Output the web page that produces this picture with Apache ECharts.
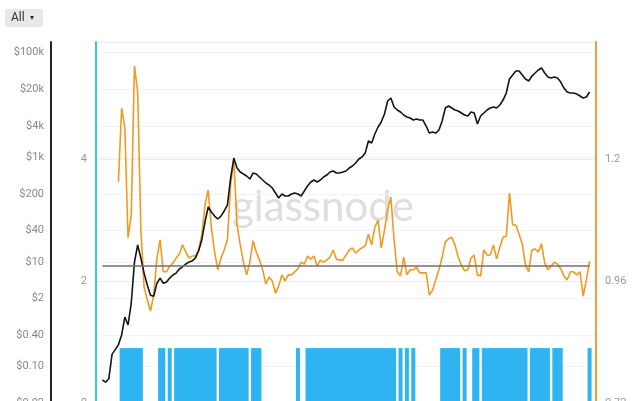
<!DOCTYPE html>
<html><head><meta charset="utf-8">
<script src="https://cdn.jsdelivr.net/npm/echarts@6/dist/echarts.min.js"></script>
<style>html,body{margin:0;padding:0;background:#fff}#c{width:640px;height:401px}</style>
</head><body><div id="c"></div>
<script>
// ---- categories (monthly) ----
const firstMonth = [2010, 5];
const monthCount = 157;
const months = [];
for (let i = 0; i < monthCount; i++) {
  const t = firstMonth[1] - 1 + i;
  const y = firstMonth[0] + Math.floor(t / 12);
  const m = (t % 12) + 1;
  months.push(y + '-' + (m < 10 ? '0' + m : m));
}

// ---- tick labels ----
const priceTicks = [0.02, 0.1, 0.4, 2, 10, 40, 200, 1000, 4000, 20000, 100000];
const midAxis = { min: 0, max: 5.92, interval: 2 };
const ratioAxis = { min: 0.72, max: 1.43, interval: 0.24 };
const priceAxis = { min: 0.02, max: 160000 };

// ---- BTC price (black, log axis), starting at month index 2 ----
const priceStart = 2;
const price = [
  0.055, 0.050, 0.058, 0.17, 0.21, 0.26, 0.40, 0.88, 0.62, 1.63,
  9.9, 21.0, 11.8, 6.1, 3.6, 2.3, 2.2, 3.9, 4.9, 3.9,
  4.1, 4.9, 5.6, 6.1, 7.3, 8.0, 9.1, 9.9, 10.4, 11.8,
  16.1, 26.2, 57.8, 112, 90, 75, 66, 75, 94, 122,
  401, 967, 622, 522, 478, 438, 384, 500, 478, 419,
  367, 322, 294, 258, 207, 166, 198, 182, 182, 198,
  207, 198, 182, 226, 282, 336, 367, 336, 367, 419,
  457, 522, 546, 500, 500, 522, 546, 622, 680, 776,
  925, 1011, 1205, 2045, 1872, 2782, 3784, 4721, 6714, 11890,
  13580, 9141, 8000, 7330, 6425, 5877, 5623, 5152, 5383, 5152,
  5152, 3955, 2904, 3039, 2904, 3319, 4931, 8750, 9550, 8750,
  8000, 7656, 7015, 6425, 6152, 7330, 7015, 4325, 6152, 7015,
  8000, 8750, 9141, 8750, 9977, 12420, 16900, 31330, 37410, 44570,
  44570, 37410, 31330, 28710, 35730, 40830, 46560, 50820, 40830, 34200,
  32730, 34200, 32730, 27480, 21090, 17660, 16900, 16900, 16180, 14830,
  13580, 14190, 17660
];

// ---- ratio indicator (orange, right axis), starting at month index 7 ----
const ratioStart = 7;
const ratio = [
  1.155, 1.300, 1.261, 1.045, 1.090, 1.383, 1.332, 1.060, 0.948, 0.923,
  0.901, 0.932, 1.005, 1.041, 0.978, 0.978, 0.989, 0.995, 1.005, 1.013,
  1.031, 1.017, 1.005, 1.009, 1.009, 1.021, 1.050, 1.109, 1.139, 1.064,
  1.017, 0.982, 1.005, 1.021, 1.041, 1.149, 1.198, 1.070, 1.031, 0.997,
  0.972, 0.997, 1.039, 1.017, 1.001, 0.982, 0.954, 0.968, 0.960, 0.936,
  0.950, 0.972, 0.960, 0.972, 0.972, 0.978, 0.984, 0.997, 0.993, 1.009,
  1.003, 1.009, 0.989, 1.001, 0.997, 1.001, 1.007, 1.021, 1.003, 1.001,
  1.001, 1.011, 1.021, 1.025, 1.015, 1.021, 1.025, 1.029, 1.052, 1.031,
  1.066, 1.080, 1.025, 1.060, 1.100, 1.125, 1.041, 0.978, 0.970, 1.007,
  0.972, 0.982, 0.982, 0.987, 0.976, 0.976, 0.976, 0.932, 0.942, 0.962,
  0.982, 1.007, 1.037, 1.043, 1.046, 1.031, 1.007, 0.991, 0.980, 0.982,
  1.005, 1.011, 0.972, 0.970, 1.021, 1.011, 1.011, 1.031, 1.003, 1.027,
  1.046, 1.048, 1.133, 1.070, 1.070, 1.052, 1.033, 0.991, 0.978, 1.021,
  1.023, 1.017, 1.033, 0.995, 0.982, 0.989, 0.997, 0.993, 0.984, 0.970,
  0.962, 0.978, 0.978, 0.972, 0.978, 0.930, 0.962, 0.999
];
const refLevel = 0.99;

// ---- signal periods (blue bars, middle axis) ----
const barLevel = 0.9;
const signalPeriods = [
  ['2011-01', '2011-07'], ['2012-01', '2012-02'], ['2012-04', '2012-04'],
  ['2012-06', '2013-06'], ['2013-08', '2014-04'], ['2014-06', '2014-08'],
  ['2015-08', '2015-08'], ['2015-11', '2018-02'], ['2018-04', '2018-04'],
  ['2018-06', '2018-06'], ['2018-08', '2018-08'], ['2019-05', '2019-10'],
  ['2019-12', '2019-12'], ['2020-03', '2020-04'], ['2020-06', '2021-07'],
  ['2021-09', '2022-02'], ['2022-04', '2022-06'], ['2023-03', '2023-03']
];

// ---- build series data ----
const priceData = months.map((m, i) => {
  const k = i - priceStart; return (k >= 0 && k < price.length) ? price[k] : null;
});
const ratioData = months.map((m, i) => {
  const k = i - ratioStart; return (k >= 0 && k < ratio.length) ? ratio[k] : null;
});
const barData = months.map(m => signalPeriods.some(([a, b]) => m >= a && m <= b) ? barLevel : null);

function fmtPrice(v) {
  v = +(+v).toPrecision(6);
  if (v >= 1000) return '$' + (v / 1000) + 'k';
  if (v < 1) return '$' + v.toFixed(2);
  return '$' + v;
}

const FONT = 'Roboto, "Open Sans", sans-serif';
const chart = echarts.init(document.getElementById('c'), null, { renderer: 'canvas' });
chart.setOption({
  animation: false,
  backgroundColor: '#fff',
  grid: { left: 96, right: 44, top: 42, bottom: -2, containLabel: false, outerBoundsMode: 'none' },
  xAxis: {
    type: 'category', data: months, boundaryGap: false, show: false
  },
  yAxis: [
    {
      type: 'value', position: 'left', offset: 0,
      min: midAxis.min, max: midAxis.max, interval: midAxis.interval,
      axisLine: { show: true, lineStyle: { color: '#3cc6d6', width: 2 } },
      axisTick: { show: false },
      axisLabel: { color: '#999', fontSize: 11, fontFamily: FONT, margin: 9, showMaxLabel: false },
      splitLine: { show: true, lineStyle: { color: '#ececec', width: 1 } }
    },
    {
      type: 'log', logBase: 10, position: 'left', offset: 45,
      min: priceAxis.min, max: priceAxis.max,
      axisLine: { show: true, lineStyle: { color: '#222', width: 2 } },
      axisTick: { show: false, customValues: priceTicks },
      axisLabel: { color: '#888', fontSize: 11, fontFamily: FONT, margin: 7, customValues: priceTicks, formatter: fmtPrice },
      splitLine: { show: true, lineStyle: { color: '#f3f3f3', width: 1 } }
    },
    {
      type: 'value', position: 'right', offset: 0,
      min: ratioAxis.min, max: ratioAxis.max, interval: ratioAxis.interval,
      axisLine: { show: true, lineStyle: { color: '#f0a032', width: 2 } },
      axisTick: { show: false },
      axisLabel: { color: '#999', fontSize: 11, fontFamily: FONT, margin: 9, showMaxLabel: false },
      splitLine: { show: false }
    }
  ],
  graphic: [
    { type: 'rect', left: 5, top: 9, shape: { width: 38, height: 18, r: 2 }, style: { fill: '#e8e8e8' } },
    { type: 'text', left: 11, top: 12, style: { text: 'All', font: '12px ' + FONT, fill: '#333' } },
    { type: 'text', left: 30, top: 14, style: { text: '▾', font: '8px ' + FONT, fill: '#333' } },
    { type: 'text', z: 0, style: { x: 323, y: 207, text: 'glassnode', align: 'center', verticalAlign: 'middle', font: '42px Lato, "Open Sans", sans-serif', fill: '#dedede' } }
  ],
  series: [
    {
      type: 'bar', yAxisIndex: 0, data: barData, barWidth: 4,
      itemStyle: { color: '#2fb4f2' }, silent: true, z: 2
    },
    {
      type: 'line', yAxisIndex: 2, data: ratioData, showSymbol: false, connectNulls: false,
      lineStyle: { color: '#f09a22', width: 1.6 }, z: 3, silent: true,
      markLine: {
        silent: true, symbol: 'none', label: { show: false },
        lineStyle: { color: '#707070', width: 1.5, type: 'solid' },
        data: [[{ xAxis: months[priceStart], yAxis: refLevel }, { xAxis: months[priceStart + price.length - 1], yAxis: refLevel }]]
      }
    },
    {
      type: 'line', yAxisIndex: 1, data: priceData, showSymbol: false,
      lineStyle: { color: '#151515', width: 1.6 }, z: 4, silent: true
    }
  ]
});
</script></body></html>
